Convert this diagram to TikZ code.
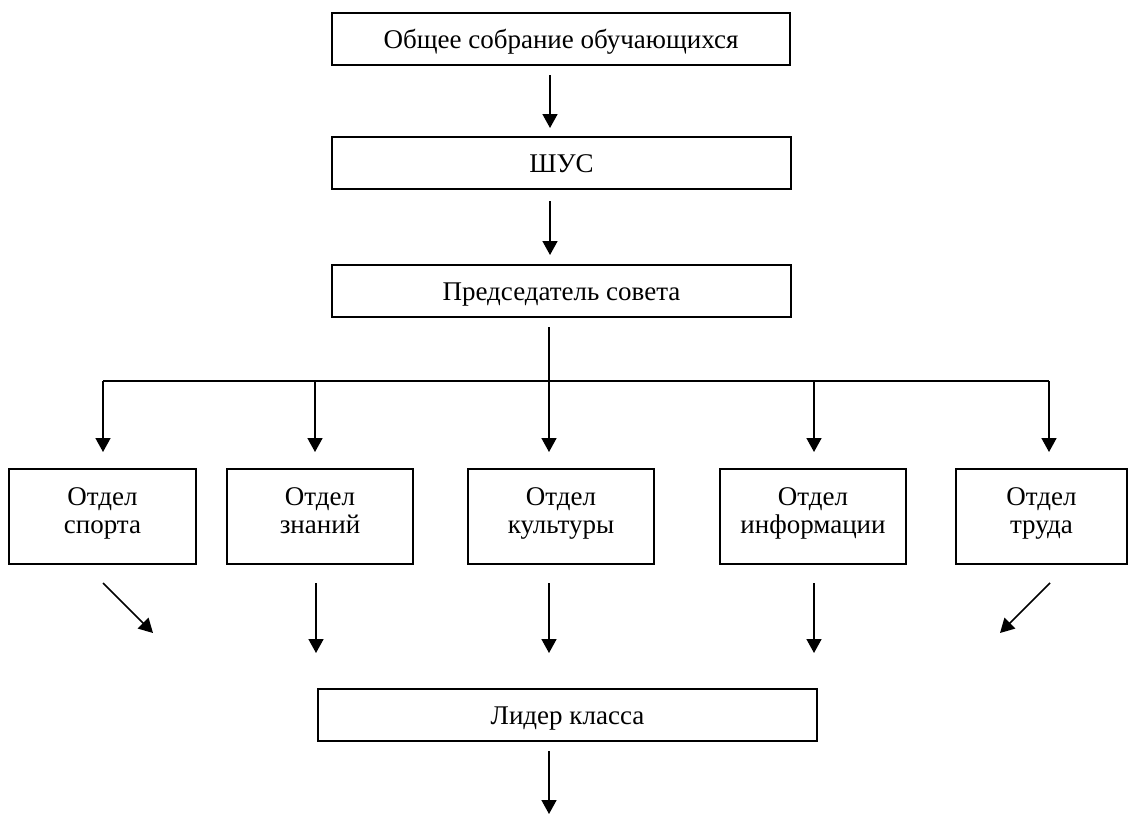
\documentclass[tikz,border=0pt]{standalone}
\usepackage{fontspec}
\setmainfont{Liberation Serif}
\usetikzlibrary{arrows.meta}
\newcommand{\lowstrut}{\rule[-14pt]{0pt}{14pt}}
\begin{document}
\begin{tikzpicture}[x=1pt,y=-1pt,
  box/.style={draw, line width=1.6pt, inner sep=0pt, minimum height=52pt,
    font=\fontsize{27}{28}\selectfont, text height=19pt, text depth=0pt},
  dept/.style={draw, line width=1.6pt, inner sep=0pt, align=center,
    minimum height=95pt, font=\fontsize{27}{28}\selectfont},
  arr/.style={line width=1.6pt, -{Triangle[length=14pt,width=15pt]}},
  ln/.style={line width=1.6pt}]
\useasboundingbox[fill=white] (0,0) rectangle (1132,814);

% boxes
\node[box, minimum width=458pt] (top) at (561,39) {Общее собрание обучающихся};
\node[box, minimum width=459pt] (shus) at (561.5,163) {ШУС};
\node[box, minimum width=459pt] (pred) at (561.5,291) {Председатель совета};

\node[dept, minimum width=187pt] (sport) at (102.5,516.5) {Отдел\strut\\спорта\lowstrut};
\node[dept, minimum width=186pt] (znan) at (320,516.5) {Отдел\strut\\знаний\lowstrut};
\node[dept, minimum width=186pt] (kult) at (561,516.5) {Отдел\strut\\культуры\lowstrut};
\node[dept, minimum width=186pt] (info) at (813,516.5) {Отдел\strut\\информации\lowstrut};
\node[dept, minimum width=171pt] (trud) at (1041.5,516.5) {Отдел\strut\\труда\lowstrut};

\node[box, minimum width=499pt] (lider) at (567.5,715) {Лидер класса};

% connector coordinates
\coordinate (a1s) at (550,75);  \coordinate (a1e) at (550,128);
\coordinate (a2s) at (550,201); \coordinate (a2e) at (550,255);
\coordinate (vs) at (549,327);  \coordinate (vb) at (549,381);
\coordinate (bl) at (103,381);  \coordinate (br) at (1049,381);
\coordinate (d1) at (103,381);  \coordinate (d1e) at (103,452);
\coordinate (d2) at (315,381);  \coordinate (d2e) at (315,452);
\coordinate (d3) at (549,381);  \coordinate (d3e) at (549,452);
\coordinate (d4) at (814,381);  \coordinate (d4e) at (814,452);
\coordinate (d5) at (1049,381); \coordinate (d5e) at (1049,452);
\coordinate (u1) at (103,583);  \coordinate (u1e) at (153,633);
\coordinate (u2) at (316,583);  \coordinate (u2e) at (316,653);
\coordinate (u3) at (549,583);  \coordinate (u3e) at (549,653);
\coordinate (u4) at (814,583);  \coordinate (u4e) at (814,653);
\coordinate (u5) at (1050,583); \coordinate (u5e) at (1000,633);
\coordinate (b1) at (549,751);  \coordinate (b1e) at (549,814);

\draw[arr] (a1s) -- (a1e);
\draw[arr] (a2s) -- (a2e);
\draw[ln] (vs) -- (vb);
\draw[ln] (bl) -- (br);
\draw[arr] (d1) -- (d1e);
\draw[arr] (d2) -- (d2e);
\draw[arr] (d3) -- (d3e);
\draw[arr] (d4) -- (d4e);
\draw[arr] (d5) -- (d5e);
\draw[arr] (u1) -- (u1e);
\draw[arr] (u2) -- (u2e);
\draw[arr] (u3) -- (u3e);
\draw[arr] (u4) -- (u4e);
\draw[arr] (u5) -- (u5e);
\draw[arr] (b1) -- (b1e);
\end{tikzpicture}
\end{document}
